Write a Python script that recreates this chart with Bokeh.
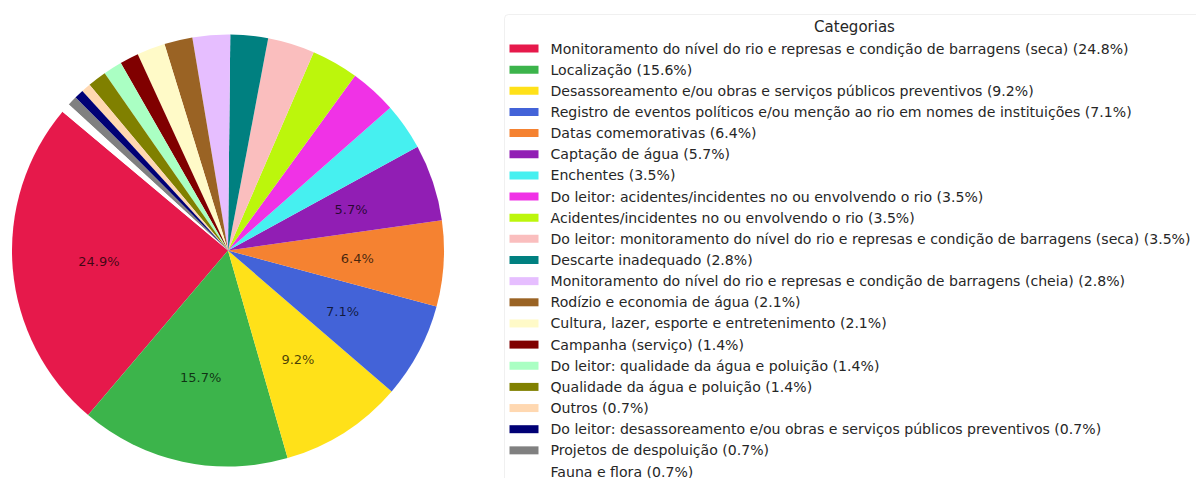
import math
from bokeh.plotting import figure
from bokeh.models import ColumnDataSource, Range1d, BoxAnnotation
from bokeh.core.properties import value
from bokeh.embed import file_html
from bokeh.resources import INLINE

# ---- data ----
categories = [
    "Monitoramento do nível do rio e represas e condição de barragens (seca)",
    "Localização",
    "Desassoreamento e/ou obras e serviços públicos preventivos",
    "Registro de eventos políticos e/ou menção ao rio em nomes de instituições",
    "Datas comemorativas",
    "Captação de água",
    "Enchentes",
    "Do leitor: acidentes/incidentes no ou envolvendo o rio",
    "Acidentes/incidentes no ou envolvendo o rio",
    "Do leitor: monitoramento do nível do rio e represas e condição de barragens (seca)",
    "Descarte inadequado",
    "Monitoramento do nível do rio e represas e condição de barragens (cheia)",
    "Rodízio e economia de água",
    "Cultura, lazer, esporte e entretenimento",
    "Campanha (serviço)",
    "Do leitor: qualidade da água e poluição",
    "Qualidade da água e poluição",
    "Outros",
    "Do leitor: desassoreamento e/ou obras e serviços públicos preventivos",
    "Projetos de despoluição",
    "Fauna e flora",
]
percentages = [24.8, 15.6, 9.2, 7.1, 6.4, 5.7, 3.5, 3.5, 3.5, 3.5, 2.8, 2.8,
               2.1, 2.1, 1.4, 1.4, 1.4, 0.7, 0.7, 0.7, 0.7]
colors = ["#e6194b", "#3cb44b", "#ffe119", "#4363d8", "#f58231", "#911eb4",
          "#46f0f0", "#f032e6", "#bcf60c", "#fabebe", "#008080", "#e6beff",
          "#9a6324", "#fffac8", "#800000", "#aaffc3", "#808000", "#ffd8b1",
          "#000075", "#808080", "#ffffff"]
legend_title = "Categorias"

FONT = value("DejaVu Sans")
W, H = 1196, 478

p = figure(width=W, height=H, output_backend="svg", toolbar_location=None,
           x_range=Range1d(0, W), y_range=Range1d(0, H),
           min_border=0, outline_line_color=None, tools="")
p.axis.visible = False
p.grid.visible = False
p.background_fill_color = "white"

# ---- pie ----
cx, cy, r = 227.5, 228.0, 216.0
start_deg = 140.0
total = sum(percentages)
starts, ends, mids = [], [], []
acc = 0.0
for v in percentages:
    a0 = math.radians(start_deg) + acc / total * 2 * math.pi
    acc += v
    a1 = math.radians(start_deg) + acc / total * 2 * math.pi
    starts.append(a0)
    ends.append(a1)
    mids.append((a0 + a1) / 2)

pie_src = ColumnDataSource(dict(x=[cx] * len(percentages), y=[cy] * len(percentages),
                                start=starts, end=ends, color=colors))
p.wedge(x="x", y="y", radius=r, start_angle="start", end_angle="end",
        direction="anticlock", fill_color="color", line_color=None, source=pie_src)

lx, ly, lt = [], [], []
for v, m in zip(percentages, mids):
    pct = v / total * 100
    if pct > 5:
        lx.append(cx + 0.6 * r * math.cos(m))
        ly.append(cy + 0.6 * r * math.sin(m))
        lt.append(f"{pct:.1f}%")
p.text(x=lx, y=ly, text=lt, text_font=FONT, text_font_size="13px",
       text_align="center", text_baseline="middle", text_color="black", text_alpha=0.72)

# ---- legend (drawn manually, matplotlib style) ----
box = BoxAnnotation(left=504, right=1320, top=464, bottom=-40, level="underlay",
                    fill_color="white", fill_alpha=0.8,
                    line_color="#cccccc", line_width=1, border_radius=4)
p.add_layout(box)

p.text(x=[854], y=[452], text=[legend_title], text_font=FONT, text_font_size="15px",
       text_align="center", text_baseline="middle", text_color="#262626")

row0, pitch = 430.0, 21.15
ys = [row0 - i * pitch for i in range(len(categories))]
labels = [f"{c} ({v:.1f}%)" for c, v in zip(categories, percentages)]
leg_src = ColumnDataSource(dict(x=[523.5] * len(categories), y=ys, color=colors,
                                tx=[550] * len(categories), label=labels))
p.rect(x="x", y="y", width=29, height=8, fill_color="color", line_color=None, source=leg_src)
p.text(x="tx", y="y", text="label", text_font=FONT, text_font_size="14.1px",
       text_align="left", text_baseline="middle", text_color="#262626", source=leg_src)

open("out.html", "w").write(file_html(p, INLINE))
